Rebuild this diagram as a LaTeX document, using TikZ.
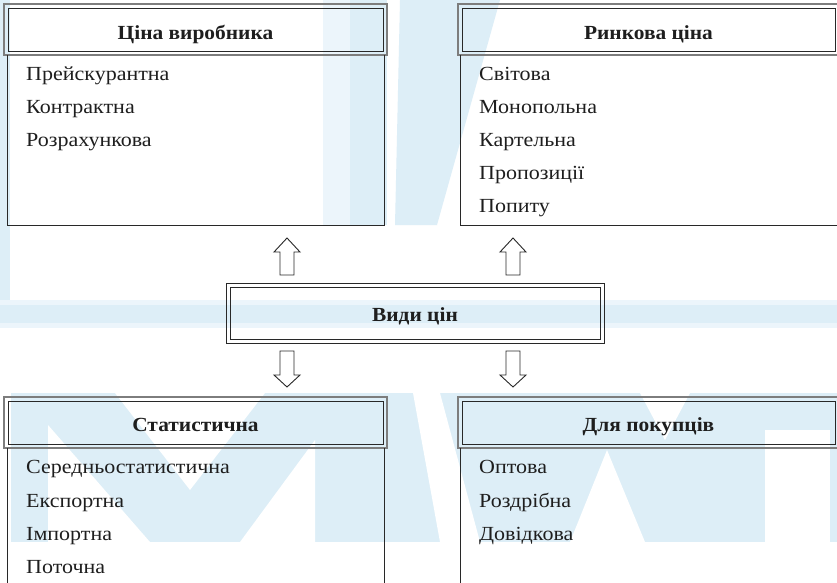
\documentclass[tikz,border=0pt]{standalone}
\usepackage{fontspec}
\setmainfont{Liberation Serif}
\newfontfamily\itemfont{Liberation Serif}[FakeStretch=1.1]
\newfontfamily\hdrfont{Liberation Serif}[FakeStretch=1.07]
\definecolor{wm}{RGB}{221,238,247}
\definecolor{wml}{RGB}{236,245,251}
\definecolor{og}{RGB}{125,125,125}
\definecolor{txt}{RGB}{30,30,30}
\definecolor{ln}{RGB}{40,40,40}
\tikzset{
  hdr/.style={draw=og, line width=1.6pt, minimum width=#1, minimum height=51pt,
    inner sep=0pt, outer sep=0pt, text depth=0pt,
    font=\hdrfont\fontsize{20}{24}\selectfont\bfseries, text=txt},
  inr/.style={draw=ln, line width=1pt},
  bodyl/.style={draw=ln, line width=1pt},
  item/.style={anchor=base west, inner sep=0pt, font=\itemfont\fontsize{20}{24}\selectfont, text=txt},
  blockarr/.style={draw=ln, line width=0.9pt, fill=white, line join=miter},
}
\newcommand\arrowup[1]{\draw[blockarr] ([xshift=-7pt]#1) -- ++(0,-23) -- ++(-6,0) -- ++(13,-14) -- ++(13,14) -- ++(-6,0) -- ++(0,23) -- cycle;}
\newcommand\arrowdown[1]{\draw[blockarr] ([xshift=-7pt]#1) -- ++(0,24) -- ++(-6,0) -- ++(13,12) -- ++(13,-12) -- ++(-6,0) -- ++(0,-24) -- cycle;}
\begin{document}
\begin{tikzpicture}[x=1pt,y=-1pt]
\useasboundingbox (0,0) rectangle (837,582);
\fill[white] (0,0) rectangle (837,582);
% watermark
\fill[wm] (0,0) rectangle (10,305);
\fill[wml] (0,300) rectangle (837,328);
\fill[wm] (0,305) rectangle (837,323);
\fill[wml] (323,0) rectangle (350,225);
\fill[wm] (350,0) rectangle (387,225);
\fill[wm] (400,0) -- (500,0) -- (437,225) -- (395,225) -- cycle;
\fill[wm] (11,393) rectangle (837,542);
\fill[white] (48,425) -- (48,542) -- (150,542) -- cycle;
\fill[white] (115,393) -- (265,393) -- (190,490) -- cycle;
\fill[white] (240,542) -- (315,440) -- (315,542) -- cycle;
\fill[white] (413,393) -- (440,393) -- (480,542) -- (440,542) -- cycle;
\fill[white] (570,542) -- (607,450) -- (645,542) -- cycle;
\fill[white] (640,393) -- (690,393) -- (665,440) -- cycle;
\fill[white] (765,430) rectangle (830,542);
% headers
\node[hdr=383pt, text height=19pt] (h1) at (195.5,29.5) {Ціна виробника};
\node[hdr=381pt, text height=19pt] (h2) at (648.5,29.5) {Ринкова ціна};
\node[hdr=383pt, text height=17pt] (h3) at (195.5,422.5) {Статистична};
\node[hdr=381pt, text height=17pt] (h4) at (648.5,422.5) {Для покупців};
\node[hdr=378pt, minimum height=60pt, draw=ln, line width=1pt, text height=17.4pt] (mid) at (415,313) {Види цін};
\foreach \n in {h1,h2,h3,h4,mid}{
  \draw[inr] ([shift={(4,4)}]\n.north west) rectangle ([shift={(-4,-4)}]\n.south east);
}
% bodies
\draw[bodyl] ([xshift=3pt]h1.south west) -- ++(0,170) -| ([xshift=-3pt]h1.south east);
\draw[bodyl] ([xshift=2pt]h2.south west) -- ++(0,170) -- ++(380,0);
\draw[bodyl] ([xshift=3pt]h3.south west) -- ++(0,140);
\draw[bodyl] ([xshift=-3pt]h3.south east) -- ++(0,140);
\draw[bodyl] ([xshift=2pt]h4.south west) -- ++(0,140);
% items
\node[item] (a1) at (26,80) {Прейскурантна};
\node[item] (a2) at (26,113) {Контрактна};
\node[item] (a3) at (26,146) {Розрахункова};
\node[item] (b1) at (479,80) {Світова};
\node[item] (b2) at (479,113) {Монопольна};
\node[item] (b3) at (479,146) {Картельна};
\node[item] (b4) at (479,179) {Пропозиції};
\node[item] (b5) at (479,212) {Попиту};
\node[item] (c1) at (26,473.5) {Середньостатистична};
\node[item] (c2) at (26,507) {Експортна};
\node[item] (c3) at (26,540) {Імпортна};
\node[item] (c4) at (26,573) {Поточна};
\node[item] (d1) at (479,473.5) {Оптова};
\node[item] (d2) at (479,507) {Роздрібна};
\node[item] (d3) at (479,540) {Довідкова};
% arrows
\coordinate (u1) at ([shift={(-128,-8)}]mid.north);
\coordinate (u2) at ([shift={(98,-8)}]mid.north);
\coordinate (w1) at ([shift={(-128,8)}]mid.south);
\coordinate (w2) at ([shift={(98,8)}]mid.south);
\arrowup{u1}
\arrowup{u2}
\arrowdown{w1}
\arrowdown{w2}
\end{tikzpicture}
\end{document}
